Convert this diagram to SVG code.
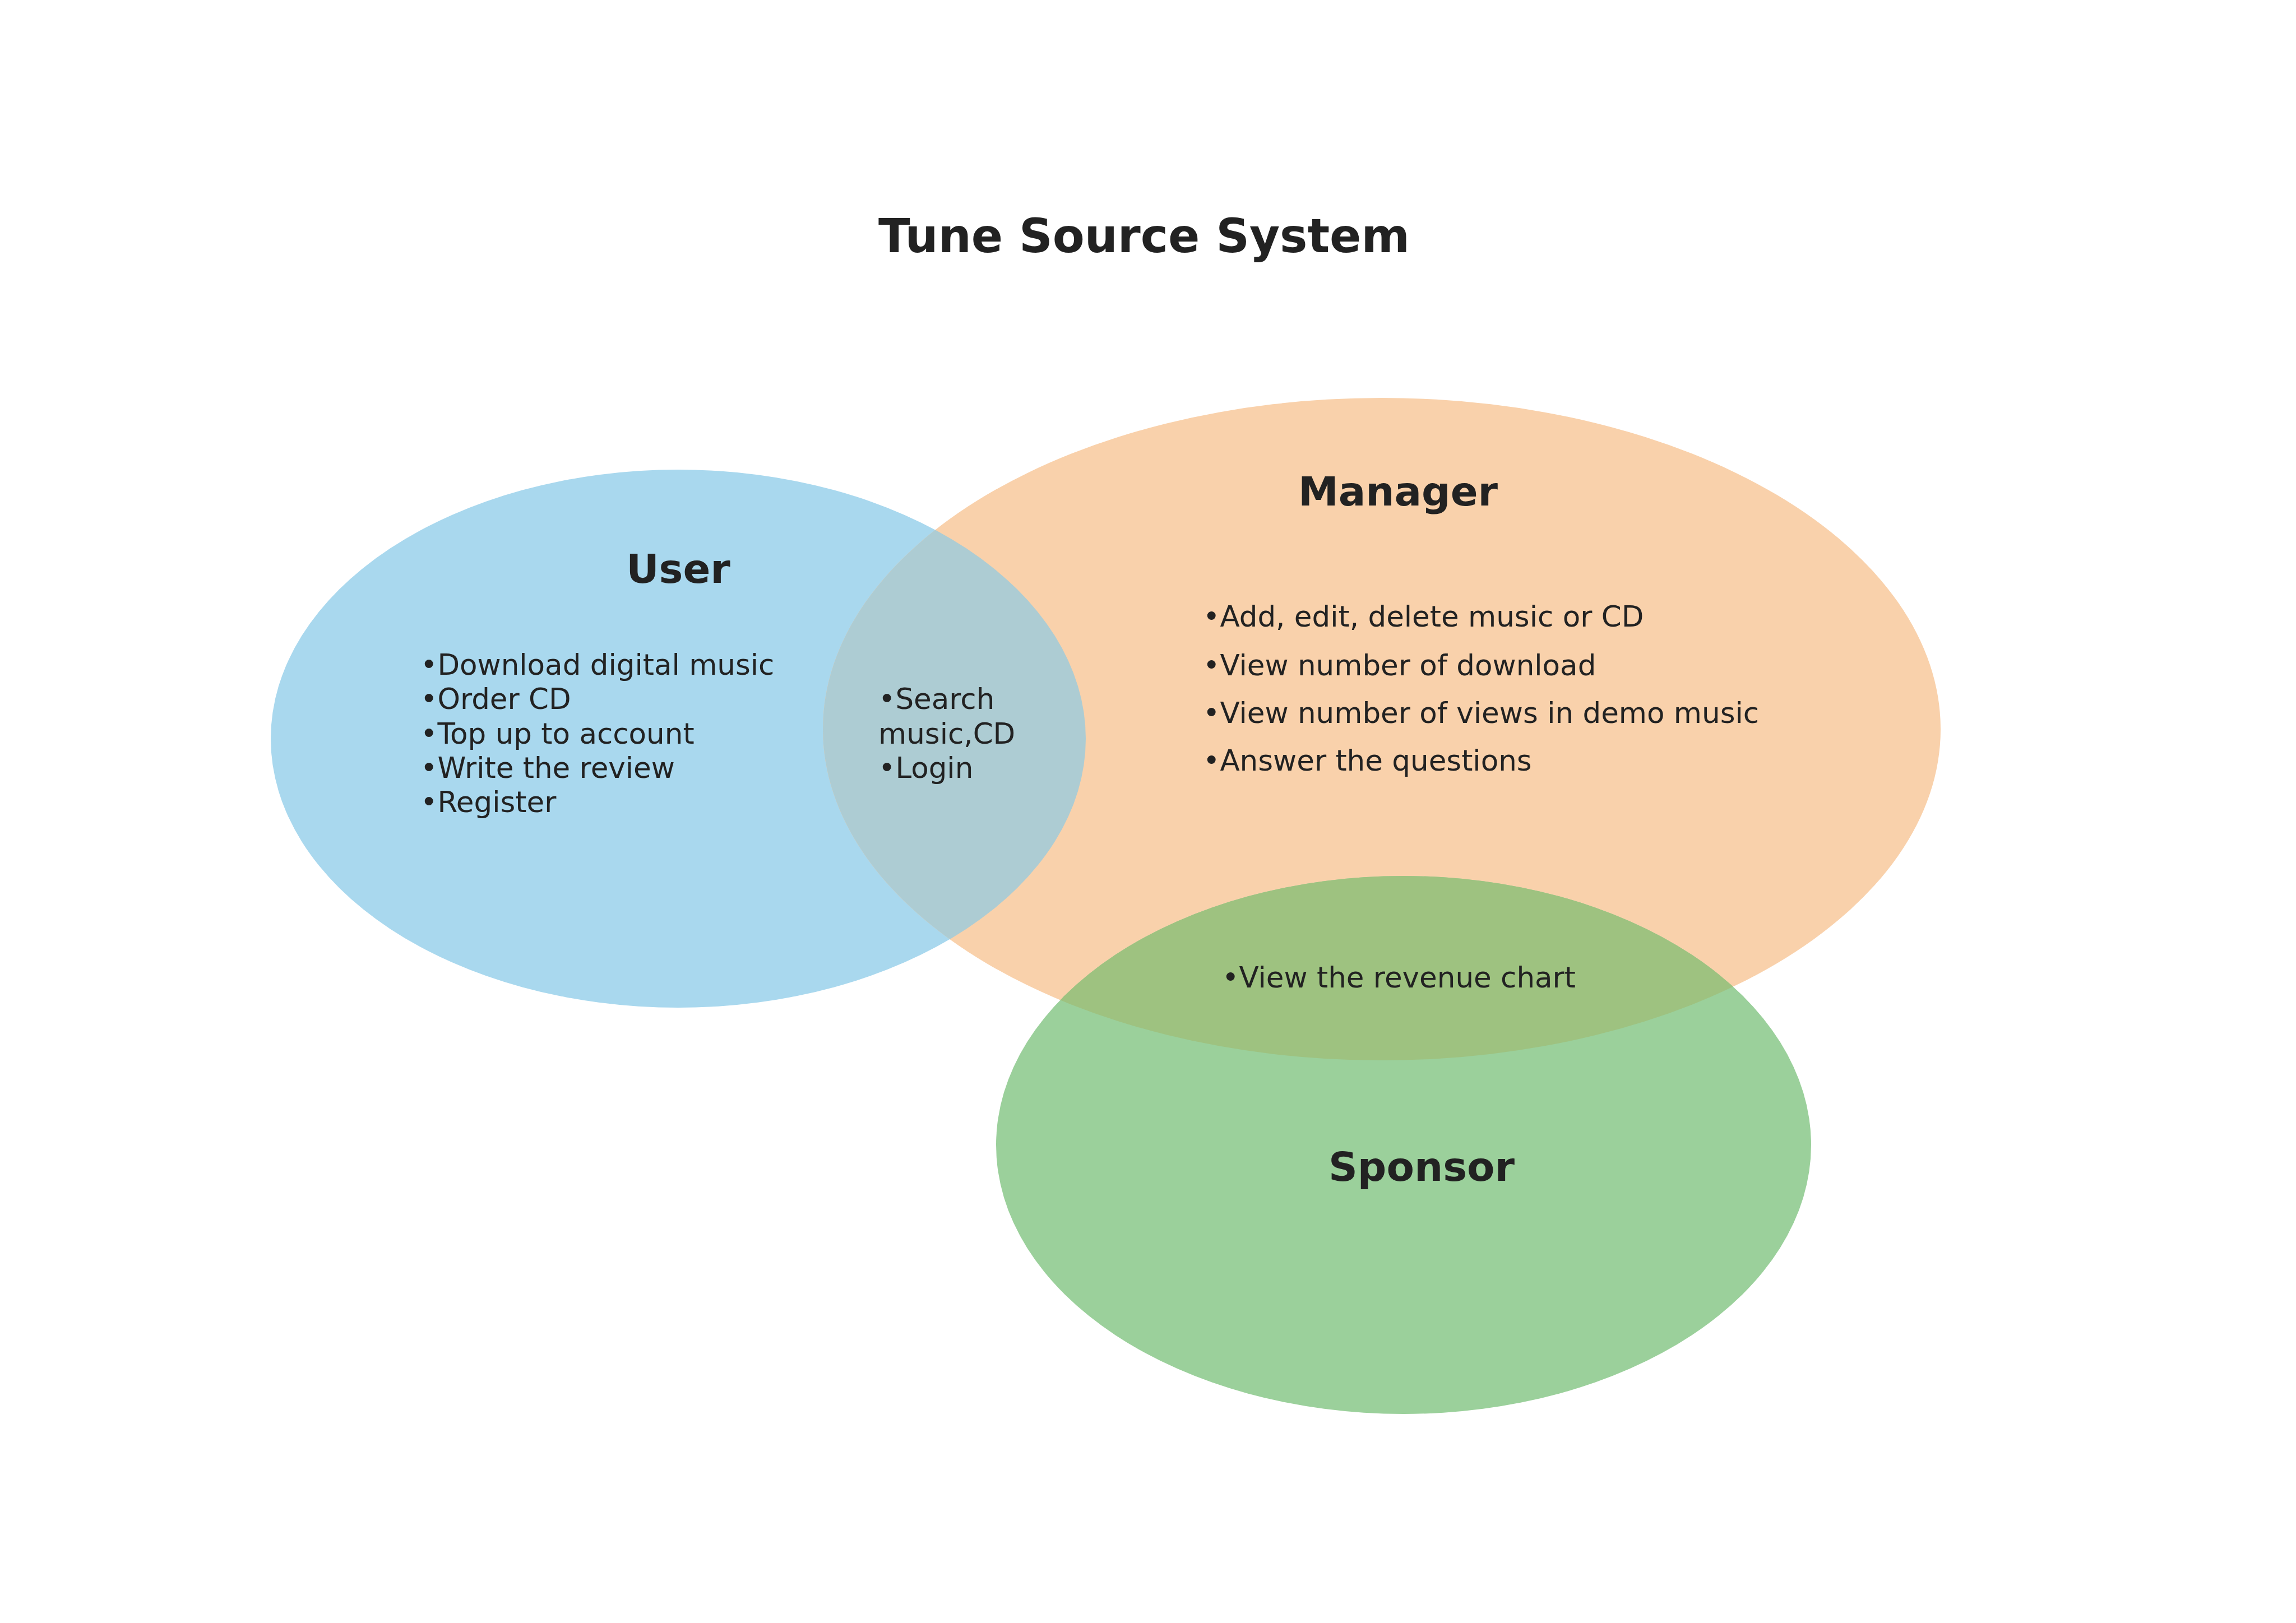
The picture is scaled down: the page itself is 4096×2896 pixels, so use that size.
<svg xmlns="http://www.w3.org/2000/svg" width="4096" height="2896" viewBox="0 0 4096 2896">
  <style>
    .title { font-family: "DejaVu Sans", sans-serif; font-weight: bold; font-size: 83px; fill: #222222; text-anchor: middle; }
    .label { font-family: "DejaVu Sans", sans-serif; font-weight: bold; font-size: 72px; fill: #222222; text-anchor: middle; }
    .item { font-family: "DejaVu Sans", sans-serif; font-size: 51.5px; fill: #222222; }
  </style>
  <defs>
    <clipPath id="clipUser"><ellipse cx="1210" cy="1318" rx="727" ry="480"/></clipPath>
    <clipPath id="clipManager"><ellipse cx="2465" cy="1301" rx="997" ry="591"/></clipPath>
  </defs>
  <rect x="0" y="0" width="4096" height="2896" fill="#FFFFFF"/>
  <text class="title" x="2041" y="450">Tune Source System</text>

  <g id="node-user">
    <ellipse cx="1210" cy="1318" rx="727" ry="480" fill="#A9D8EE"/>
  </g>
  <g id="node-manager">
    <ellipse cx="2465" cy="1301" rx="997" ry="591" fill="#F9D1AB"/>
  </g>
  <g id="node-sponsor">
    <ellipse cx="2504" cy="2043" rx="727" ry="480" fill="#9BD09B"/>
  </g>
  <g id="overlaps">
    <ellipse cx="2465" cy="1301" rx="997" ry="591" fill="#ADCCD3" clip-path="url(#clipUser)"/>
    <ellipse cx="2504" cy="2043" rx="727" ry="480" fill="#9EC280" clip-path="url(#clipManager)"/>
  </g>
  <g id="connectors"></g>

  <g id="labels">
    <text class="label" x="1210" y="1040">User</text>
    <text class="item" x="750" y="1204">•Download digital music</text>
    <text class="item" x="750" y="1265">•Order CD</text>
    <text class="item" x="750" y="1327">•Top up to account</text>
    <text class="item" x="750" y="1388">•Write the review</text>
    <text class="item" x="750" y="1449">•Register</text>

    <text class="item" x="1567" y="1265">•Search</text>
    <text class="item" x="1567" y="1327">music,CD</text>
    <text class="item" x="1567" y="1388">•Login</text>

    <text class="label" x="2494" y="902">Manager</text>
    <text class="item" x="2146" y="1118">•Add, edit, delete music or CD</text>
    <text class="item" x="2146" y="1205">•View number of download</text>
    <text class="item" x="2146" y="1290">•View number of views in demo music</text>
    <text class="item" x="2146" y="1375">•Answer the questions</text>

    <text class="item" x="2180" y="1762">•View the revenue chart</text>
    <text class="label" x="2536" y="2107">Sponsor</text>
  </g>
</svg>
